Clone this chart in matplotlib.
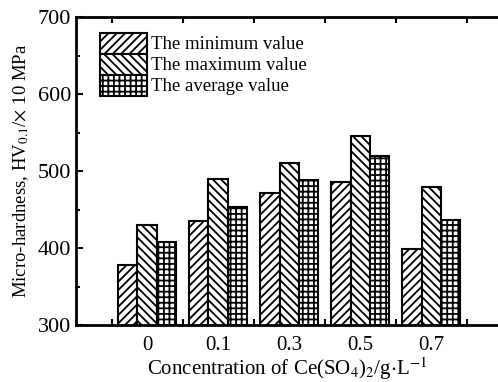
import numpy as np
import matplotlib
matplotlib.use("Agg")
import matplotlib.pyplot as plt
from matplotlib.ticker import MultipleLocator

plt.rcParams['font.family'] = ['Liberation Serif', 'DejaVu Serif']
plt.rcParams['hatch.linewidth'] = 1.3
plt.rcParams['mathtext.fontset'] = 'stix'

# Ce(SO4)2 concentration (g/L) and micro-hardness (HV0.1, x10 MPa)
categories = ['0', '0.1', '0.3', '0.5', '0.7']
min_values = [378, 435, 472, 486, 399]
max_values = [430, 490, 511, 545, 479]
avg_values = [408, 453, 488, 520, 437]
series_labels = ['The minimum value', 'The maximum value', 'The average value']

fig = plt.figure(figsize=(4.98, 3.82), dpi=100)
ax = fig.add_axes([76 / 498, 57 / 382, 422 / 498, 308 / 382])

x = np.arange(len(categories))
w = 0.27
series = [min_values, max_values, avg_values]
hatches = ['////', '\\\\\\\\', '+++']
handles = []
for i, (vals, h, lab) in enumerate(zip(series, hatches, series_labels)):
    b = ax.bar(x + (i - 1) * w, vals, width=w, bottom=0, facecolor='white',
               edgecolor='black', linewidth=1.5, hatch=h, label=lab)
    handles.append(b)

ax.set_ylim(300, 700)
ax.set_xlim(-1.0, 4.94)
ax.set_xticks(x)
ax.set_xticklabels(categories)
ax.xaxis.set_minor_locator(MultipleLocator(1.0, offset=0.5))
ax.yaxis.set_major_locator(MultipleLocator(100))
ax.yaxis.set_minor_locator(MultipleLocator(50))

ax.tick_params(axis='x', which='major', length=0, labelsize=15, pad=8)
ax.tick_params(axis='x', which='minor', direction='in', length=4, width=1.5, top=True)
ax.tick_params(axis='y', which='both', direction='in', width=1.5, labelsize=16)
ax.tick_params(axis='y', which='major', length=5)
ax.tick_params(axis='y', which='minor', length=3)

for s in ['left', 'bottom', 'top']:
    ax.spines[s].set_linewidth(2)
ax.spines['right'].set_visible(False)

ax.set_xlabel(r'Concentration of Ce(SO$_4$)$_2$/g$\cdot$L$^{-1}$', fontsize=15, labelpad=0)
ax.set_ylabel(r'Micro-hardness, HV$_{0.1}$/$\times$ 10 MPa', fontsize=13.5, labelpad=5)

leg = ax.legend(handles=handles, loc='upper left', bbox_to_anchor=(0.035, 0.98),
                frameon=False, fontsize=13.5, handlelength=2.5, handleheight=1.35,
                handletextpad=0.2, labelspacing=0.0, borderaxespad=0.3,
                borderpad=0.2)

fig.savefig('out.png', dpi=100)
